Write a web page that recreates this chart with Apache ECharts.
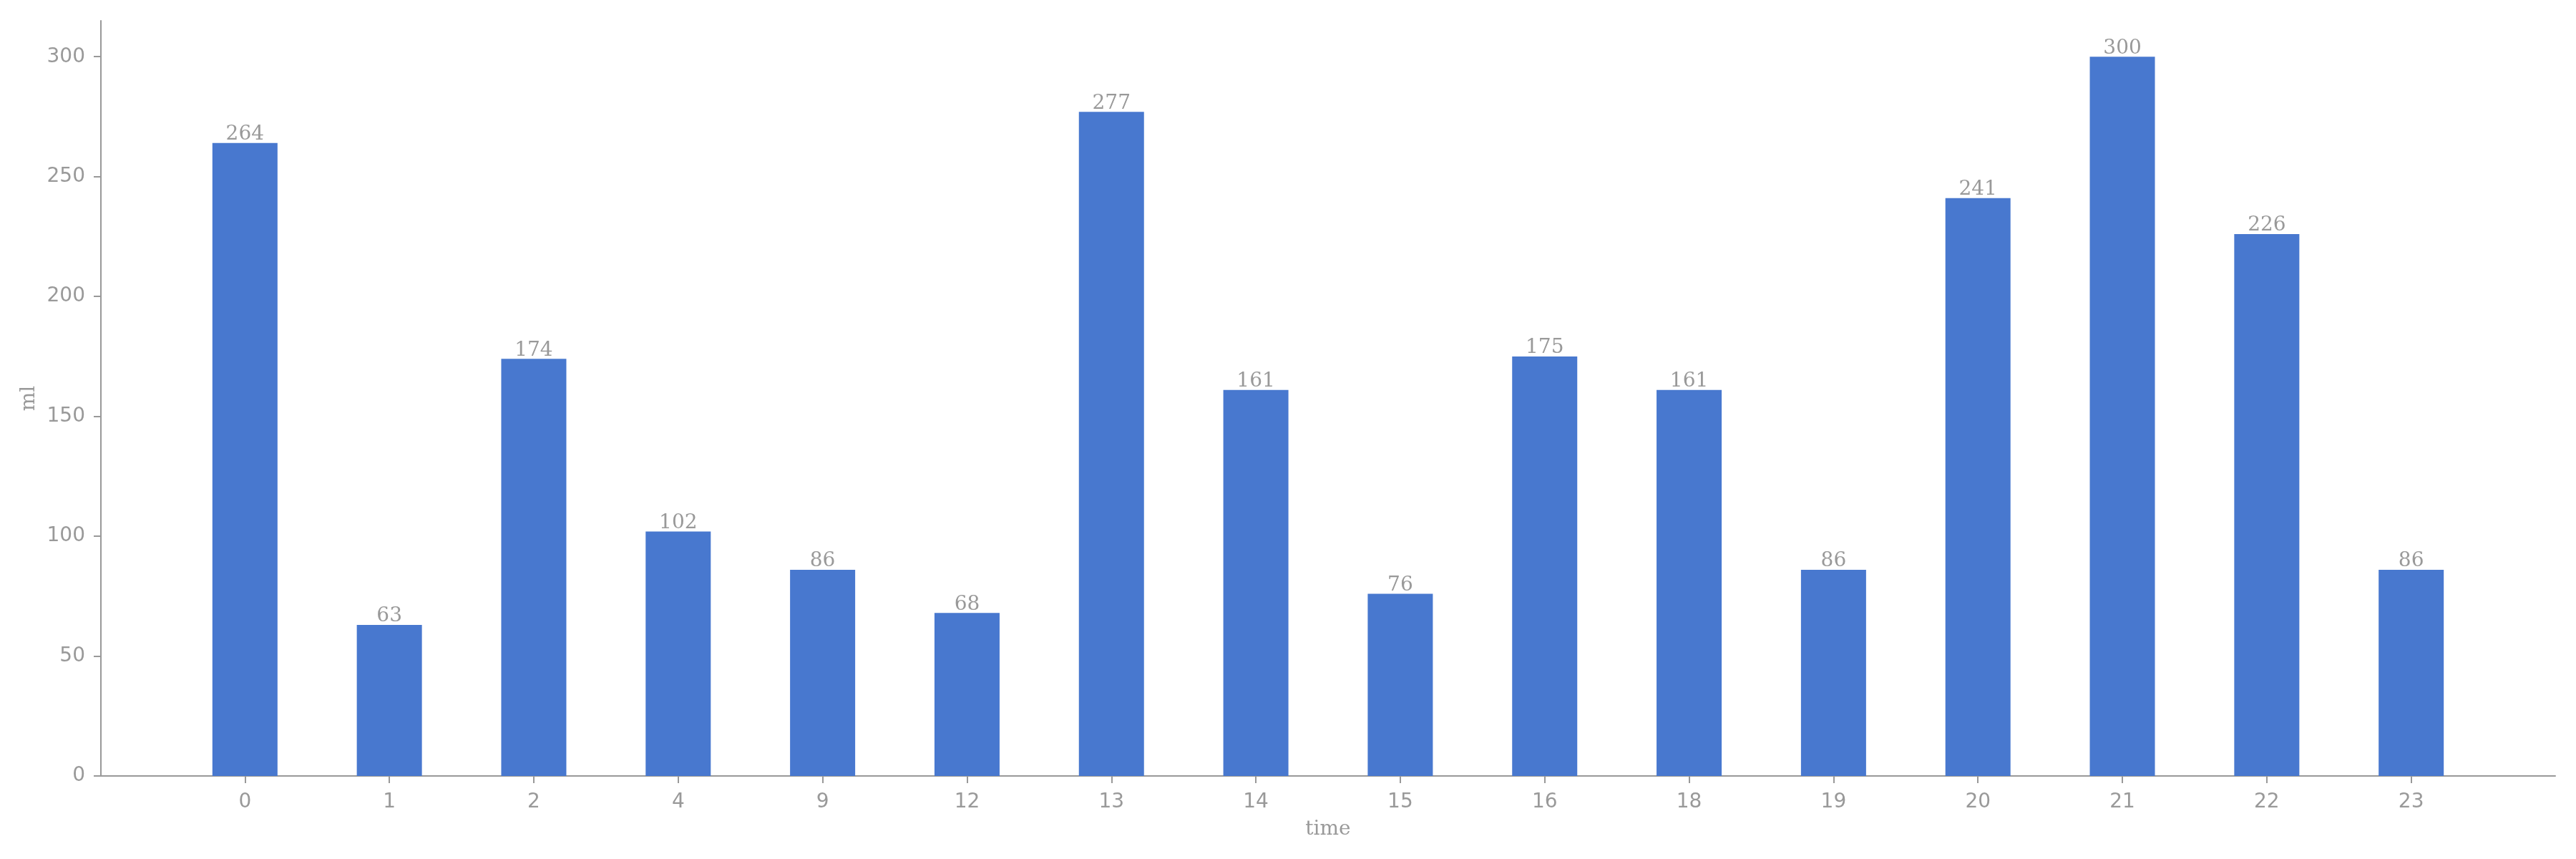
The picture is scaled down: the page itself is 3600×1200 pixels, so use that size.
<!DOCTYPE html>
<html>
<head>
<meta charset="utf-8">
<script src="https://cdn.jsdelivr.net/npm/echarts@6/dist/echarts.min.js"></script>
<style>html,body{margin:0;padding:0;background:#fff}#c{width:3600px;height:1200px}</style>
</head>
<body>
<div id="c"></div>
<script>
const categories = ['0','1','2','4','9','12','13','14','15','16','18','19','20','21','22','23'];
const values = [264, 63, 174, 102, 86, 68, 277, 161, 76, 175, 161, 86, 241, 300, 226, 86];
const yTicks = [0, 50, 100, 150, 200, 250, 300];

const gray = '#999999';
const chart = echarts.init(document.getElementById('c'), null, {renderer: 'canvas'});
const idx = categories.map((c, i) => i);
chart.setOption({
  animation: false,
  grid: {left: 141, right: 29, top: 29, bottom: 116, containLabel: false},
  xAxis: {
    type: 'value',
    min: -0.9975,
    max: 15.9975,
    name: 'time',
    nameLocation: 'middle',
    nameGap: 61,
    nameTextStyle: {color: gray, fontFamily: 'DejaVu Serif', fontSize: 28},
    axisLine: {show: true, onZero: false, lineStyle: {color: gray, width: 2}},
    axisTick: {show: true, length: 10, customValues: idx, lineStyle: {color: gray, width: 2}},
    axisLabel: {customValues: idx, margin: 23, color: gray, fontFamily: 'DejaVu Sans', fontSize: 28,
      formatter: v => categories[Math.round(v)] ?? ''},
    splitLine: {show: false}
  },
  yAxis: {
    type: 'value',
    min: 0,
    max: 315,
    name: 'ml',
    nameLocation: 'middle',
    nameGap: 86,
    nameTextStyle: {color: gray, fontFamily: 'DejaVu Serif', fontSize: 28},
    axisLine: {show: true, onZero: false, lineStyle: {color: gray, width: 2}},
    axisTick: {show: true, length: 10, customValues: yTicks, lineStyle: {color: gray, width: 2}},
    axisLabel: {customValues: yTicks, margin: 22, color: gray, fontFamily: 'DejaVu Sans', fontSize: 28},
    splitLine: {show: false}
  },
  series: [{
    type: 'bar',
    data: values.map((v, i) => [i, v]),
    barWidth: 91,
    itemStyle: {color: '#4878CF'},
    label: {show: true, position: 'top', distance: -2, color: gray, fontFamily: 'DejaVu Serif', fontSize: 28}
  }]
});
</script>
</body>
</html>
